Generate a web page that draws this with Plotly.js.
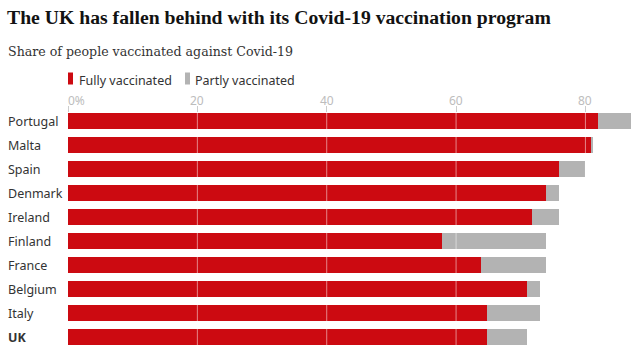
<!DOCTYPE html>
<html>
<head>
<meta charset="utf-8">
<script src="https://cdn.plot.ly/plotly-3.0.1.min.js"></script>
<style>html,body{margin:0;padding:0;background:#fff;}#chart{width:639px;height:361px;}</style>
</head>
<body>
<div id="chart"></div>
<script>
const countries = ["Portugal", "Malta", "Spain", "Denmark", "Ireland", "Finland", "France", "Belgium", "Italy", "UK"];
const fully = [82.0, 80.9, 75.9, 73.9, 71.8, 57.8, 63.9, 70.9, 64.8, 64.8];
const partly = [5.0, 0.3, 4.1, 2.0, 4.1, 16.1, 10.0, 2.0, 8.1, 6.1];
const tickVals = [0, 20, 40, 60, 80];
const tickLabels = ["0%", "20", "40", "60", "80"];
const seriesNames = ["Fully vaccinated", "Partly vaccinated"];

const RED = "#cc0a11", GREY = "#b3b3b3";
const SANS = "Noto Sans, sans-serif";
const plotLeft = 68, plotW = 564, plotTop = 113, plotH = 236;
const px = v => (v) / plotW;              // px offset -> paper x
const py = yPix => 1 + (plotTop - yPix) / plotH; // pixel y -> paper y

const traces = [
  {type: "bar", orientation: "h", name: seriesNames[0], y: countries, x: fully,
   marker: {color: RED}, hoverinfo: "x+y"},
  {type: "bar", orientation: "h", name: seriesNames[1], y: countries, x: partly,
   marker: {color: GREY}, hoverinfo: "x+y"}
];

const annotations = [];
const shapes = [];

// category labels, left aligned
countries.forEach((c, i) => {
  annotations.push({
    xref: "paper", yref: "y", x: px(6 - plotLeft), y: c, xanchor: "left", yanchor: "middle",
    text: c === "UK" ? "<b>" + c + "</b>" : c, showarrow: false,
    font: {family: SANS, size: 12.5, color: "#333333"}
  });
});

// x tick labels
tickVals.forEach((v, i) => {
  annotations.push({
    xref: "x", yref: "paper", x: v, y: 1, yanchor: "bottom", yshift: 2,
    xanchor: i === 0 ? "left" : "center", xshift: i === 0 ? -2 : 0, text: tickLabels[i], showarrow: false,
    font: {family: SANS, size: 12, color: "#bdbdbd"}
  });
  if (v > 0) {
    shapes.push({type: "line", xref: "x", yref: "paper", x0: v, x1: v, y0: 0, y1: 1,
      line: {color: "rgba(255,255,255,0.5)", width: 1}, layer: "above"});
  }
});

// subtitle
annotations.push({
  xref: "paper", yref: "paper", x: px(6 - plotLeft), y: py(51.5), xanchor: "left", yanchor: "middle",
  text: "Share of people vaccinated against Covid-19", showarrow: false,
  font: {family: "DejaVu Serif, serif", size: 12.6, color: "#333333"}
});

// legend
const legendX = [68, 185];
const legendTextX = [77, 193];
const legendColors = [RED, GREY];
seriesNames.forEach((n, i) => {
  shapes.push({type: "rect", xref: "paper", yref: "paper",
    x0: px(legendX[i] - plotLeft), x1: px(legendX[i] + 5 - plotLeft),
    y0: py(84.5), y1: py(72.5), fillcolor: legendColors[i], line: {width: 0}});
  annotations.push({
    xref: "paper", yref: "paper", x: px(legendTextX[i] - plotLeft), y: py(81), xanchor: "left", yanchor: "middle",
    text: n, showarrow: false, font: {family: SANS, size: 12.5, color: "#333333"}
  });
});

const layout = {
  width: 639, height: 361,
  margin: {l: plotLeft, r: 639 - plotLeft - plotW, t: plotTop, b: 361 - plotTop - plotH, pad: 0},
  paper_bgcolor: "#ffffff", plot_bgcolor: "#ffffff",
  barmode: "stack", bargap: 1/3, showlegend: false,
  title: {text: "<b>The UK has fallen behind with its Covid-19 vaccination program</b>",
    x: 7/639, xref: "container", xanchor: "left", y: 1 - 17.5/361, yref: "container", yanchor: "middle",
    font: {family: "Liberation Serif, serif", size: 19.7, color: "#121212"}},
  xaxis: {range: [0, 87.2], side: "top", showticklabels: false, ticks: "outside", ticklen: 6,
    tickcolor: "#cccccc", tickwidth: 1, tickvals: tickVals, showgrid: false, zeroline: false, showline: false,
    fixedrange: true},
  yaxis: {type: "category", categoryarray: countries, categoryorder: "array", range: [9.5, -1/3],
    showticklabels: false, showgrid: false, zeroline: false, showline: false, ticks: "", fixedrange: true},
  annotations: annotations,
  shapes: shapes
};

Plotly.newPlot("chart", traces, layout, {displayModeBar: false, staticPlot: true});
</script>
</body>
</html>
